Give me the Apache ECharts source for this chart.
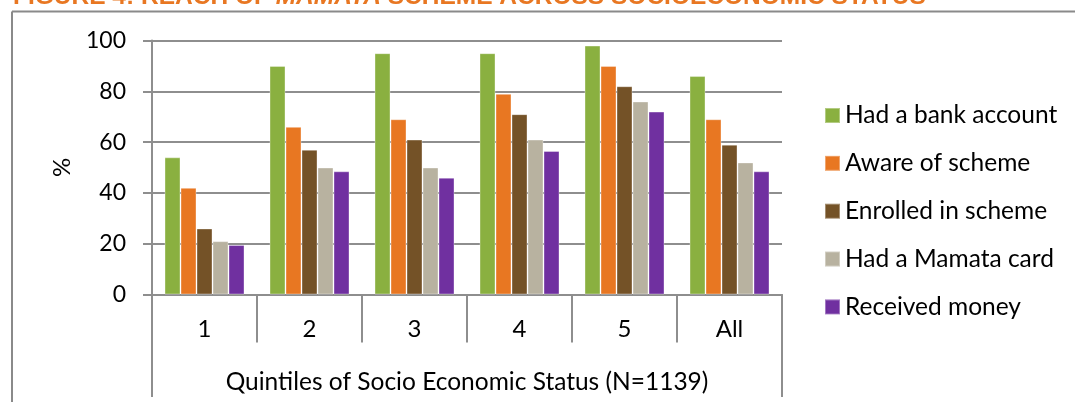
<!DOCTYPE html>
<html>
<head>
<meta charset="utf-8">
<script src="https://cdn.jsdelivr.net/npm/echarts@6/dist/echarts.min.js"></script>
<style>
html,body{margin:0;padding:0;background:#fff;}
#chart{width:1075px;height:402px;}
</style>
</head>
<body>
<div id="chart"></div>
<script>
const categories = ['1', '2', '3', '4', '5', 'All'];
const seriesNames = ['Had a bank account', 'Aware of scheme', 'Enrolled in scheme', 'Had a Mamata card', 'Received money'];
const bankAccount = [54, 90, 95, 95, 98, 86];
const awareOfScheme = [42, 66, 69, 79, 90, 69];
const enrolled = [26, 57, 61, 71, 82, 59];
const mamataCard = [21, 50, 50, 61, 76, 52];
const receivedMoney = [19.5, 48.5, 46, 56.5, 72, 48.5];
const seriesColors = ['#8AB040', '#E87722', '#745227', '#B8B2A0', '#7030A0'];
const yMin = 0, yMax = 100, yStep = 20;

const allValues = [bankAccount, awareOfScheme, enrolled, mamataCard, receivedMoney];
const FONT = 'Lato';
const GRID = '#8e8e8e';

const chart = echarts.init(document.getElementById('chart'), null, {renderer: 'canvas'});

const baseGraphic = [
  {
    type: 'text',
    x: 13,
    y: -3,
    style: {
      text: '{a|FIGURE 4: REACH OF }{b|MAMATA}{a| SCHEME ACROSS SOCIOECONOMIC STATUS}',
      verticalAlign: 'middle',
      rich: {
        a: {fontFamily: 'Liberation Sans', fontWeight: 'bold', fontSize: 24.5, fill: '#E87722', lineHeight: 26},
        b: {fontFamily: 'Liberation Sans', fontWeight: 'bold', fontStyle: 'italic', fontSize: 24.5, fill: '#E87722', lineHeight: 26}
      }
    }
  },
  {type: 'line', shape: {x1: 12, y1: 11.5, x2: 1075, y2: 11.5}, style: {stroke: '#8a8a8a', lineWidth: 2}},
  {type: 'line', shape: {x1: 12, y1: 11.5, x2: 12, y2: 402}, style: {stroke: '#8a8a8a', lineWidth: 2}}
];

const option = {
  animation: false,
  backgroundColor: '#fff',
  grid: {left: 152, right: 293, top: 40.5, bottom: 107.5, containLabel: false},
  legend: {
    orient: 'vertical',
    left: 819,
    top: 98,
    itemWidth: 15,
    itemHeight: 15,
    itemGap: 22.85,
    icon: 'rect',
    data: seriesNames,
    textStyle: {fontFamily: FONT, fontSize: 24.5, color: '#000', lineHeight: 24},
    selectedMode: false
  },
  xAxis: {
    type: 'category',
    data: categories,
    axisLine: {lineStyle: {color: GRID, width: 2}},
    axisTick: {show: true, interval: 0, length: 48, lineStyle: {color: GRID, width: 2}},
    axisLabel: {fontFamily: FONT, fontSize: 24, color: '#000', margin: 23, interval: 0},
    name: 'Quintiles of Socio Economic Status (N=1139)',
    nameLocation: 'middle',
    nameGap: 75,
    nameTextStyle: {fontFamily: FONT, fontSize: 24.5, color: '#000'}
  },
  yAxis: {
    type: 'value',
    min: yMin, max: yMax, interval: yStep,
    axisLine: {show: true, lineStyle: {color: GRID, width: 2}},
    axisTick: {show: true, length: 9, lineStyle: {color: GRID, width: 2}},
    splitLine: {lineStyle: {color: GRID, width: 2}},
    axisLabel: {fontFamily: FONT, fontSize: 23, color: '#000', margin: 26},
    name: '%',
    nameLocation: 'middle',
    nameGap: 78,
    nameRotate: 90,
    nameTextStyle: {fontFamily: FONT, fontSize: 24, color: '#000'}
  },
  series: seriesNames.map((n, i) => ({
    name: n,
    type: 'bar',
    data: allValues[i],
    barWidth: 16,
    barGap: '0%',
    itemStyle: {color: seriesColors[i], borderColor: 'rgba(255,255,255,0.35)', borderWidth: 1}
  })),
  graphic: baseGraphic
};
chart.setOption(option);

// Outer category boundary lines extending down through the axis title area
const gridRect = chart.getModel().getComponent('grid', 0).coordinateSystem.getRect();
const x0 = gridRect.x, x1 = gridRect.x + gridRect.width, yb = gridRect.y + gridRect.height;
chart.setOption({
  graphic: baseGraphic.concat([
    {type: 'line', shape: {x1: x0, y1: yb, x2: x0, y2: 397}, style: {stroke: GRID, lineWidth: 2}},
    {type: 'line', shape: {x1: x1, y1: yb, x2: x1, y2: 397}, style: {stroke: GRID, lineWidth: 2}}
  ])
});
</script>
</body>
</html>
